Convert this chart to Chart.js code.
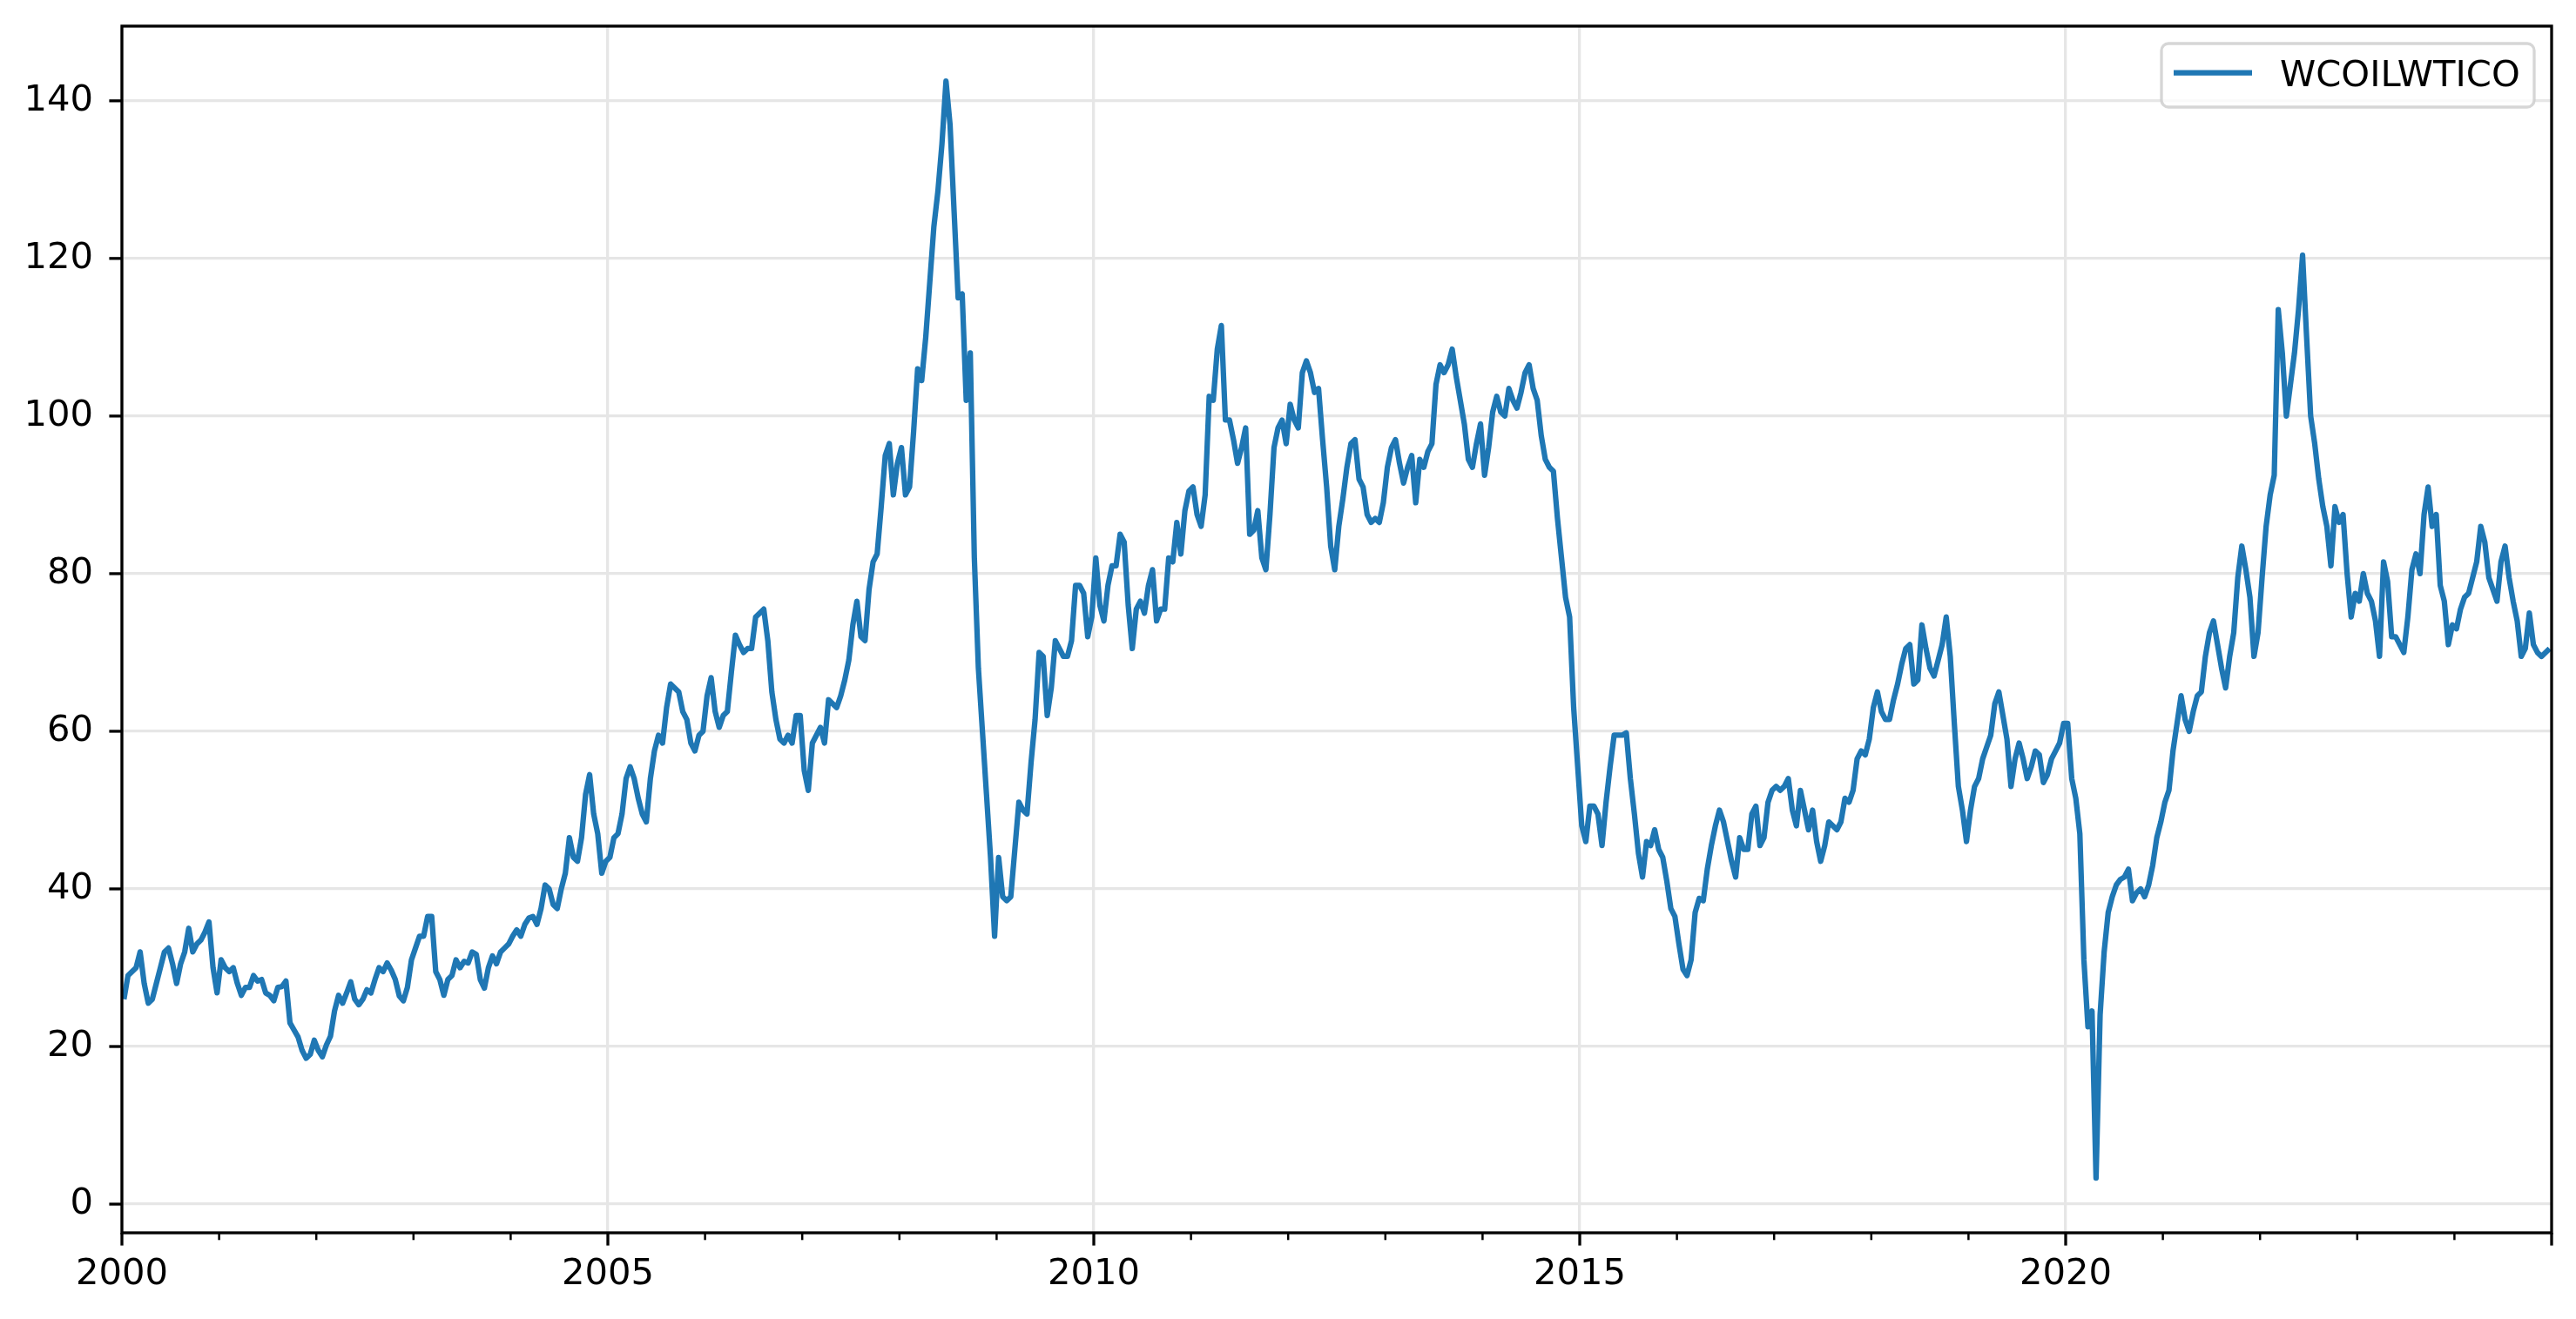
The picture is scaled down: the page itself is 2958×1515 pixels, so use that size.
<!DOCTYPE html>
<html>
<head>
<meta charset="utf-8">
<title>WCOILWTICO</title>
<script src="https://cdn.jsdelivr.net/npm/chart.js@4.4.1/dist/chart.umd.min.js"></script>
<style>
  html, body { margin: 0; padding: 0; background: #fff; }
  #wrap { width: 2958px; height: 1515px; }
</style>
</head>
<body>
<div id="wrap"><canvas id="oilChart" width="2958" height="1515"></canvas></div>
<script>
// WTI spot price at two points per month (first half / second half)
const seriesName = "WCOILWTICO";
const years = [2000, 2001, 2002, 2003, 2004, 2005, 2006, 2007, 2008, 2009, 2010, 2011, 2012,
               2013, 2014, 2015, 2016, 2017, 2018, 2019, 2020, 2021, 2022, 2023, 2024];

const y2000 = [26, 29, 29.5, 30, 32, 28, 25.5, 26, 28, 30, 32, 32.5, 30.5, 28, 30.5, 32, 35, 32, 33, 33.5, 34.5, 35.8, 30, 26.8];
const y2001 = [31, 30, 29.5, 30, 28, 26.5, 27.5, 27.5, 29, 28.3, 28.5, 26.8, 26.5, 25.8, 27.5, 27.6, 28.3, 23, 22.1, 21.2, 19.5, 18.5, 19, 20.8];
const y2002 = [19.5, 18.7, 20.2, 21.3, 24.5, 26.5, 25.5, 26.8, 28.2, 26, 25.3, 26, 27.2, 26.8, 28.5, 30, 29.5, 30.6, 29.7, 28.5, 26.4, 25.8, 27.5, 31];
const y2003 = [32.5, 34, 34, 36.5, 36.5, 29.5, 28.5, 26.5, 28.5, 29, 31, 30, 30.8, 30.6, 32, 31.7, 28.5, 27.4, 30, 31.5, 30.5, 32, 32.5, 33];
const y2004 = [34, 34.8, 34, 35.5, 36.3, 36.5, 35.5, 37.5, 40.5, 40, 38, 37.5, 40, 42, 46.5, 44, 43.5, 46.5, 52, 54.5, 49.5, 47, 42, 43.5];
const y2005 = [44, 46.5, 47, 49.5, 54, 55.5, 54, 51.5, 49.5, 48.5, 54, 57.5, 59.5, 58.5, 63, 66, 65.5, 65, 62.5, 61.5, 58.5, 57.5, 59.5, 60];
const y2006 = [64.5, 66.8, 62.5, 60.5, 62, 62.5, 67.5, 72.2, 71, 70, 70.5, 70.5, 74.5, 75, 75.5, 71.5, 65, 61.5, 59, 58.5, 59.5, 58.5, 62, 62];
const y2007 = [55, 52.5, 58.5, 59.5, 60.5, 58.5, 64, 63.5, 63, 64.5, 66.5, 69, 73.5, 76.5, 72, 71.5, 78, 81.5, 82.5, 88.5, 95, 96.5, 90, 94];
const y2008 = [96, 90, 91, 98, 106, 104.5, 110, 117, 124, 128.5, 134.5, 142.5, 137, 126, 115, 115.5, 102, 108, 82, 68, 60, 52, 44, 34];
const y2009 = [44, 39, 38.5, 39, 45, 51, 50, 49.5, 56, 61.5, 70, 69.5, 62, 65.5, 71.5, 70.5, 69.5, 69.5, 71.5, 78.5, 78.5, 77.5, 72, 74.5];
const y2010 = [82, 76, 74, 78.5, 81, 81, 85, 84, 76, 70.5, 75.5, 76.5, 75, 78.5, 80.5, 74, 75.5, 75.5, 82, 81.5, 86.5, 82.5, 88, 90.5];
const y2011 = [91, 87.5, 86, 90, 102.5, 102, 108.5, 111.5, 99.5, 99.5, 97, 94, 96, 98.5, 85, 85.5, 88, 82, 80.5, 87.5, 96, 98.5, 99.5, 96.5];
const y2012 = [101.5, 99.5, 98.5, 105.5, 107, 105.5, 103, 103.5, 97, 91, 83.5, 80.5, 86, 89.5, 93.5, 96.5, 97, 92, 91, 87.5, 86.5, 87, 86.5, 89];
const y2013 = [93.5, 96, 97, 94, 91.5, 93.5, 95, 89, 94.5, 93.5, 95.5, 96.5, 104, 106.5, 105.5, 106.5, 108.5, 105, 102, 99, 94.5, 93.5, 96.5, 99];
const y2014 = [92.5, 96, 100.5, 102.5, 100.5, 100, 103.5, 102, 101, 103, 105.5, 106.5, 103.5, 102, 97.5, 94.5, 93.5, 93, 87, 82, 77, 74.5, 63, 55.5];
const y2015 = [48, 46, 50.5, 50.5, 49.5, 45.5, 51, 55.5, 59.5, 59.5, 59.5, 59.8, 54, 49.5, 44.5, 41.5, 46, 45.5, 47.5, 45, 44, 41, 37.5, 36.5];
const y2016 = [33, 29.8, 29, 31, 37, 38.8, 38.5, 42.5, 45.5, 48, 50, 48.5, 46, 43.5, 41.5, 46.5, 45, 45, 49.5, 50.5, 45.5, 46.5, 51, 52.5];
const y2017 = [53, 52.5, 53, 54, 50, 48, 52.5, 50, 47.5, 50, 46, 43.5, 45.5, 48.5, 48, 47.5, 48.5, 51.5, 51, 52.5, 56.5, 57.5, 57, 59];
const y2018 = [63, 65, 62.5, 61.5, 61.5, 64, 66, 68.5, 70.5, 71, 66, 66.5, 73.5, 70.5, 68, 67, 69, 71, 74.5, 69.5, 61, 53, 50, 46];
const y2019 = [50, 53, 54, 56.5, 58, 59.5, 63.5, 65, 62, 59, 53, 56.5, 58.5, 56.5, 54, 55.5, 57.5, 57, 53.5, 54.5, 56.5, 57.5, 58.5, 61];
const y2020 = [61, 54, 51.5, 47, 31, 22.5, 24.5, 3.3, 24, 32, 37, 39, 40.5, 41.2, 41.5, 42.5, 38.5, 39.5, 40, 39, 40.5, 43, 46.5, 48.5];
const y2021 = [51, 52.5, 57.5, 61, 64.5, 61.5, 60, 62.5, 64.5, 65, 69.5, 72.5, 74, 71, 68, 65.5, 69.5, 72.5, 79.5, 83.5, 80.5, 77, 69.5, 72.5];
const y2022 = [79.5, 86, 90, 92.5, 113.5, 108, 100, 104, 108, 113.5, 120.4, 110, 100, 96.5, 92, 88.5, 86, 81, 88.5, 86.5, 87.5, 80, 74.5, 77.5];
const y2023 = [76.5, 80, 77.5, 76.5, 74, 69.5, 81.5, 79, 72, 72, 71, 70, 74.5, 80.5, 82.5, 80, 87.5, 91, 86, 87.5, 78.5, 76.5, 71, 73.5];
const y2024 = [73, 75.5, 77, 77.5, 79.5, 81.5, 86, 84, 79.5, 78, 76.5, 81.5, 83.5, 79.5, 76.5, 74, 69.5, 70.5, 75, 71, 70, 69.5, 70, 70.5];

const xTickLabels = [2000, 2005, 2010, 2015, 2020];
const yTickValues = [0, 20, 40, 60, 80, 100, 120, 140];

const byYear = [y2000, y2001, y2002, y2003, y2004, y2005, y2006, y2007, y2008, y2009, y2010, y2011, y2012,
                y2013, y2014, y2015, y2016, y2017, y2018, y2019, y2020, y2021, y2022, y2023, y2024];

// two samples a month -> place each at the middle of its half month
const points = [];
years.forEach((yr, i) => {
  byYear[i].forEach((v, k) => points.push({ x: yr + (k + 0.5) / 24, y: v }));
});

const FONT = { family: "DejaVu Sans", size: 41.7, lineHeight: 1 };
const LINE_BLUE = "#1f77b4";
const GRID = "#e6e6e6";

// spines, tick marks and the legend box, matplotlib style
const frame = {
  id: "frame",
  afterDraw(chart) {
    const { ctx, chartArea: a, scales } = chart;
    ctx.save();

    ctx.strokeStyle = "#000";
    ctx.lineWidth = 3.3;
    ctx.strokeRect(a.left, a.top, a.right - a.left, a.bottom - a.top);

    // x ticks: major every 5 years, minor every year
    const firstYear = years[0];
    const lastYear = years[years.length - 1] + 1;
    for (let yr = firstYear; yr <= lastYear; yr++) {
      const px = scales.x.getPixelForValue(yr);
      const major = yr % 5 === 0;
      ctx.lineWidth = major ? 3.3 : 2.5;
      ctx.beginPath();
      ctx.moveTo(px, a.bottom);
      ctx.lineTo(px, a.bottom + (major ? 14.6 : 8.3));
      ctx.stroke();
    }
    // y ticks
    ctx.lineWidth = 3.3;
    yTickValues.forEach(v => {
      const py = scales.y.getPixelForValue(v);
      ctx.beginPath();
      ctx.moveTo(a.left, py);
      ctx.lineTo(a.left - 14.6, py);
      ctx.stroke();
    });

    // legend
    const ds = chart.data.datasets[0];
    const bx = a.right - 20 - 428, by = a.top + 20, bw = 428, bh = 73;
    ctx.beginPath();
    ctx.roundRect(bx, by, bw, bh, 8);
    ctx.fillStyle = "rgba(255,255,255,0.8)";
    ctx.fill();
    ctx.strokeStyle = "rgba(204,204,204,0.8)";
    ctx.lineWidth = 3.3;
    ctx.stroke();

    ctx.strokeStyle = ds.borderColor;
    ctx.lineWidth = 6.25;
    ctx.beginPath();
    ctx.moveTo(bx + 14, by + 33.5);
    ctx.lineTo(bx + 104, by + 33.5);
    ctx.stroke();

    ctx.fillStyle = "#000";
    ctx.font = FONT.size + "px '" + FONT.family + "'";
    ctx.textBaseline = "alphabetic";
    ctx.textAlign = "left";
    ctx.fillText(ds.label, bx + 136, by + 48.5);

    ctx.restore();
  }
};

window.onload = function () {
  const ctx = document.getElementById("oilChart").getContext("2d");
  new Chart(ctx, {
    type: "line",
    data: {
      datasets: [{
        label: seriesName,
        data: points,
        borderColor: LINE_BLUE,
        borderWidth: 6.25,
        pointRadius: 0,
        tension: 0,
        borderJoinStyle: "round",
        fill: false
      }]
    },
    options: {
      responsive: false,
      animation: false,
      devicePixelRatio: 1,
      layout: { padding: { left: 0, top: 30, right: 28, bottom: 0 } },
      plugins: { legend: { display: false }, tooltip: { enabled: false } },
      scales: {
        x: {
          type: "linear",
          min: 2000,
          max: 2025,
          afterFit(s) { s.height = 99; s.paddingLeft = 0; s.paddingRight = 0; },
          afterBuildTicks(s) {
            const t = [];
            for (let yr = 2000; yr <= 2025; yr++) t.push({ value: yr });
            s.ticks = t;
          },
          border: { display: false },
          grid: {
            drawTicks: false,
            lineWidth: 3.3,
            color: c => (c.tick && xTickLabels.includes(c.tick.value)) ? GRID : "rgba(0,0,0,0)"
          },
          ticks: {
            autoSkip: false,
            maxRotation: 0,
            padding: 27,
            color: "#000",
            font: FONT,
            callback: v => xTickLabels.includes(v) ? String(v) : ""
          }
        },
        y: {
          min: -3.64,
          max: 149.48,
          afterFit(s) { s.width = 140; s.paddingTop = 0; s.paddingBottom = 0; },
          afterBuildTicks(s) { s.ticks = yTickValues.map(v => ({ value: v })); },
          border: { display: false },
          grid: { drawTicks: false, lineWidth: 3.3, color: GRID },
          ticks: { padding: 33, color: "#000", font: FONT }
        }
      }
    },
    plugins: [frame]
  });
};
</script>
</body>
</html>
